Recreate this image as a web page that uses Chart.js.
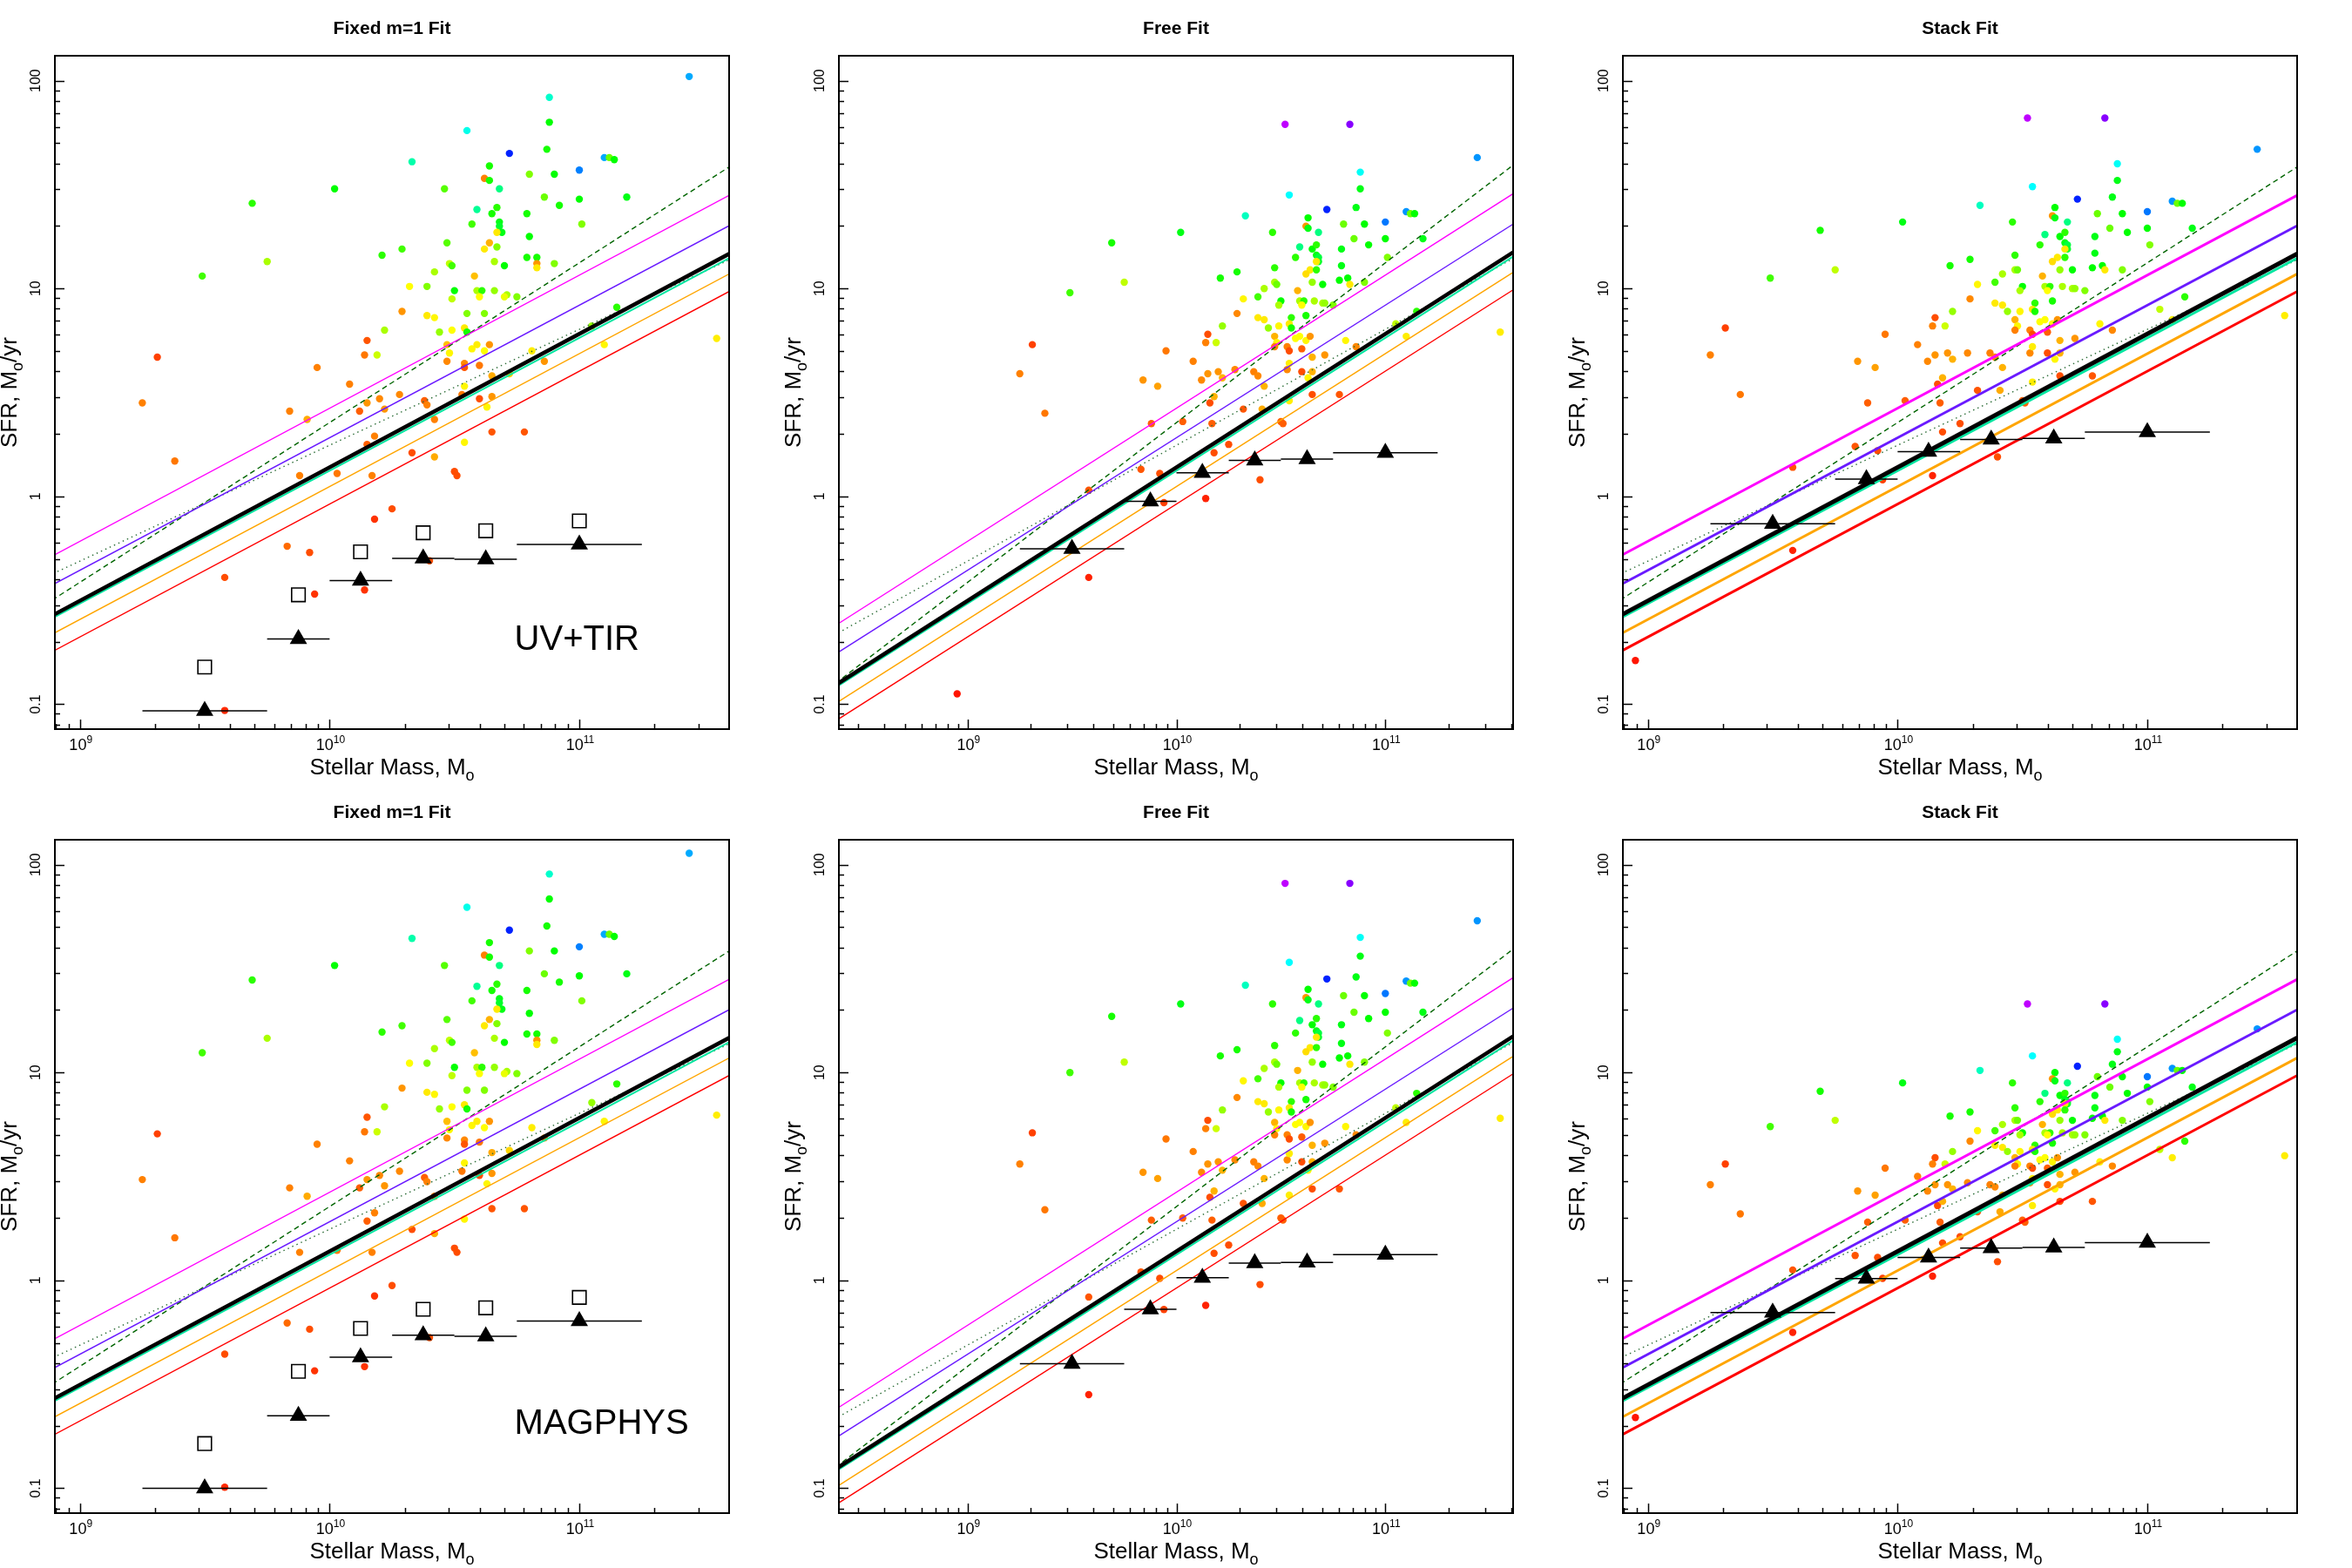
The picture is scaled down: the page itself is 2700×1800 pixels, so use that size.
<!DOCTYPE html>
<html lang="en">
<head>
    <meta charset="UTF-8">
    <title>SFR vs Stellar Mass</title>
    <link rel="icon" href="data:," />
    <script src="https://cdn.jsdelivr.net/npm/chart.js"></script>
    <style>
        body { margin: 0; background: #fff; }
        #sheet { position: relative; width: 2700px; height: 1800px; }
        #sheet canvas { position: absolute; }
    </style>
</head>
<body>
<div id="sheet"></div>
<script>
// ---- axis ticks ----
const xTickValues = [1e9, 1e10, 1e11];
const xTickExponents = ['9', '10', '11'];
const yTickValues = [0.1, 1, 10, 100];
const yTickLabels = ['0.1', '1', '10', '100'];

const narrowMassRange = [7.94e8, 3.98e11];
const wideMassRange = [2.42e8, 4.09e11];
const sfrRange = [0.0759, 131.8];

// ---- reference relations (SFR at M* = 2e8 and 5e11) ----
const relMass = [2e8, 5e11];
const relMagenta = [0.217, 32.5];
const relBlue = [0.158, 23.2];
const relDashed = [0.112, 45.8];
const relDotted = [0.199, 15.6];
const relBlack = [0.112, 17.0];
const relTeal = [0.109, 16.2];
const relOrange = [0.0914, 13.6];
const relRed = [0.0753, 11.2];

// ---- stacked bins ----
const binMass = [3.16e9, 7.5e9, 1.33e10, 2.37e10, 4.22e10, 1e11];
const binLo = [1.78e9, 5.62e9, 1e10, 1.78e10, 3.16e10, 5.62e10];
const binHi = [5.62e9, 1e10, 1.78e10, 3.16e10, 5.62e10, 1.78e11];
const stackUvFixed = [0.093, 0.206, 0.393, 0.503, 0.498, 0.587];
const stackUvFree = [0.560, 0.946, 1.30, 1.49, 1.51, 1.62];
const stackUvStack = [0.738, 1.21, 1.64, 1.88, 1.90, 2.04];
const stackMagFixed = [0.100, 0.223, 0.427, 0.545, 0.538, 0.638];
const stackMagFree = [0.397, 0.726, 1.03, 1.21, 1.22, 1.33];
const stackMagStack = [0.70, 1.02, 1.29, 1.43, 1.44, 1.52];
const medianUv = [0.151, 0.336, 0.541, 0.668, 0.683, 0.762];
const medianMag = [0.164, 0.365, 0.587, 0.726, 0.738, 0.828];

// ---- galaxies, fixed-slope panels (log10 values) ----
const logMassA = [
  10.33,10.72,10.87,10.64,10.62,10.64,10.68,10.46,10.80,10.90,
  11.00,11.10,11.12,11.14,11.19,11.00,10.86,10.92,10.59,10.67,
  10.65,10.57,10.68,10.68,10.69,10.67,10.79,10.80,11.01,10.47,
  10.64,10.62,10.67,10.29,10.21,10.79,10.83,10.66,10.70,10.48,
  10.49,10.83,10.83,10.90,10.42,10.58,10.32,10.39,10.50,10.59,
  10.61,10.66,10.60,10.49,10.71,10.70,10.75,10.29,10.39,10.42,
  10.55,10.62,10.22,10.44,10.49,10.54,10.55,10.15,10.14,10.19,
  10.47,10.48,10.57,10.59,10.62,10.64,10.47,10.54,10.54,10.60,
  10.81,10.86,11.15,11.05,11.10,10.08,10.15,10.20,10.12,10.22,
  10.28,10.38,10.39,10.42,10.53,10.54,10.60,10.65,10.65,10.63,
  10.72,10.65,10.78,10.18,10.15,10.54,10.33,11.44,10.88,10.55,
  10.88,10.02,9.69,9.75,9.49,9.95,9.31,9.25,9.84,9.91,
  9.38,9.88,10.03,10.17,10.42,10.50,10.51,10.25,10.18,9.83,
  9.92,9.58,9.94,10.14,9.58,10.40,11.55];
const logSfrUvFixed = [
  1.61,1.65,1.67,1.59,1.53,1.52,1.48,1.48,1.55,1.55,
  1.57,1.63,1.63,1.62,1.44,1.43,1.44,1.40,1.38,1.39,
  1.36,1.31,1.32,1.30,1.27,1.27,1.36,1.25,1.31,1.22,
  1.22,1.19,1.20,1.19,1.16,1.15,1.15,1.13,1.11,1.12,
  1.11,1.12,1.10,1.12,1.08,1.06,1.01,1.01,0.99,0.99,
  0.99,0.99,0.96,0.95,0.97,0.96,0.96,0.89,0.87,0.86,
  0.88,0.88,0.80,0.79,0.80,0.81,0.79,0.75,0.68,0.68,
  0.73,0.69,0.71,0.73,0.70,0.73,0.65,0.64,0.62,0.63,
  0.70,0.65,0.91,0.82,0.73,0.54,0.45,0.47,0.41,0.42,
  0.49,0.46,0.44,0.37,0.49,0.53,0.47,0.58,0.48,0.43,
  0.59,0.31,0.31,0.29,0.25,0.26,0.21,2.02,1.92,1.76,
  1.80,1.48,1.41,1.13,1.06,0.62,0.67,0.45,0.41,0.37,
  0.17,0.10,0.11,0.10,0.19,0.12,0.10,-0.06,-0.11,-0.24,
  -0.27,-0.39,-0.47,-0.45,-1.03,-0.31,0.76];
const logSfrMagFixed = [
  1.645,1.685,1.705,1.625,1.565,1.555,1.515,1.515,1.585,1.585,
  1.605,1.665,1.665,1.655,1.475,1.465,1.475,1.435,1.415,1.425,
  1.395,1.345,1.355,1.335,1.305,1.305,1.395,1.285,1.345,1.255,
  1.255,1.225,1.235,1.225,1.195,1.185,1.185,1.165,1.145,1.155,
  1.145,1.155,1.135,1.155,1.115,1.095,1.045,1.045,1.025,1.025,
  1.025,1.025,0.995,0.985,1.005,0.995,0.995,0.925,0.905,0.895,
  0.915,0.915,0.835,0.825,0.835,0.845,0.825,0.785,0.715,0.715,
  0.765,0.725,0.745,0.765,0.735,0.765,0.685,0.675,0.655,0.665,
  0.735,0.685,0.945,0.855,0.765,0.575,0.485,0.505,0.445,0.455,
  0.525,0.495,0.475,0.405,0.525,0.565,0.505,0.615,0.515,0.465,
  0.625,0.345,0.345,0.325,0.285,0.295,0.245,2.055,1.955,1.795,
  1.835,1.515,1.445,1.165,1.095,0.655,0.705,0.485,0.445,0.405,
  0.205,0.135,0.145,0.135,0.225,0.155,0.135,-0.025,-0.075,-0.205,
  -0.235,-0.355,-0.435,-0.415,-0.995,-0.275,0.795];
const hueA = [
  160,232,115,115,30,115,150,100,90,120,
  210,200,95,120,125,120,95,115,155,110,
  115,105,125,130,125,55,115,120,90,100,
  42,55,90,105,110,115,115,80,120,75,
  105,35,55,90,80,45,60,90,120,80,
  110,85,60,75,80,65,90,35,55,58,
  90,90,80,85,60,55,115,20,28,72,
  45,58,58,56,60,35,32,32,20,28,
  56,35,110,85,58,30,35,32,22,35,
  32,22,30,30,28,58,18,40,35,58,
  50,20,20,30,22,58,18,200,168,175,
  120,120,110,80,105,30,15,30,30,40,
  28,30,28,30,40,18,18,18,12,25,
  18,18,12,12,10,18,56];

// ---- galaxies, free / stack panels (log10 values) ----
const logMassB = [
  10.52,10.83,10.88,10.54,10.88,10.72,10.86,10.33,11.10,11.12,
  11.14,11.00,10.63,10.62,10.63,10.02,10.46,10.68,10.80,10.90,
  9.69,10.59,10.65,10.67,10.85,10.92,11.00,11.18,10.79,10.57,
  10.67,10.68,10.68,10.67,11.01,10.47,10.29,10.21,10.79,10.64,
  10.62,10.67,10.78,10.82,10.83,10.90,10.47,10.48,10.65,10.70,
  9.75,9.49,10.42,10.32,10.39,10.50,10.58,10.59,10.61,10.60,
  10.66,10.70,10.71,10.75,10.49,10.29,10.39,10.42,10.55,10.62,
  10.44,10.49,10.54,10.55,10.22,10.15,10.14,10.19,10.47,10.57,
  10.59,10.62,10.64,10.48,10.47,10.53,10.54,10.60,10.81,10.86,
  9.95,10.08,9.84,9.91,10.12,10.15,10.20,10.22,10.28,10.37,
  10.39,10.42,10.53,10.54,10.60,10.65,10.65,10.71,10.63,11.05,
  11.15,11.10,10.16,10.18,9.88,10.03,10.17,10.32,10.41,10.54,
  10.65,10.78,10.50,10.51,9.83,9.92,10.18,10.25,10.40,9.58,
  10.14,9.94,11.44,11.55,9.25,9.31,9.37,9.58,8.95];
const logSfrUvFree = [
  1.79,1.79,1.56,1.45,1.48,1.38,1.39,1.35,1.37,1.36,
  1.36,1.32,1.34,1.30,1.29,1.27,1.27,1.27,1.31,1.31,
  1.22,1.20,1.19,1.21,1.24,1.21,1.24,1.24,1.19,1.15,
  1.16,1.15,1.13,1.13,1.15,1.10,1.08,1.05,1.11,1.09,
  1.07,1.09,1.04,1.05,1.02,1.03,1.03,1.02,1.03,1.02,
  1.03,0.98,1.00,0.95,0.96,0.94,0.99,0.94,0.94,0.92,
  0.94,0.93,0.93,0.92,0.92,0.88,0.86,0.85,0.86,0.87,
  0.81,0.82,0.83,0.81,0.82,0.78,0.74,0.74,0.77,0.76,
  0.77,0.75,0.77,0.74,0.72,0.72,0.70,0.71,0.75,0.72,
  0.70,0.65,0.56,0.53,0.56,0.59,0.60,0.57,0.61,0.60,
  0.58,0.53,0.61,0.64,0.60,0.67,0.60,0.68,0.57,0.83,
  0.89,0.77,0.45,0.48,0.35,0.36,0.35,0.42,0.42,0.46,
  0.49,0.49,0.36,0.35,0.13,0.11,0.21,0.25,0.08,0.03,
  -0.01,-0.03,1.63,0.79,0.59,0.73,0.40,-0.39,-0.95];
const logSfrUvStack = [
  1.82,1.82,1.60,1.49,1.52,1.43,1.44,1.40,1.42,1.41,
  1.41,1.37,1.39,1.35,1.34,1.32,1.32,1.32,1.36,1.36,
  1.28,1.26,1.25,1.27,1.29,1.27,1.29,1.29,1.25,1.21,
  1.22,1.21,1.19,1.19,1.21,1.16,1.14,1.11,1.17,1.15,
  1.13,1.15,1.10,1.11,1.09,1.09,1.09,1.09,1.09,1.09,
  1.09,1.05,1.07,1.02,1.03,1.01,1.06,1.01,1.01,0.99,
  1.01,1.00,1.00,0.99,0.99,0.95,0.93,0.92,0.93,0.94,
  0.89,0.89,0.90,0.89,0.89,0.86,0.82,0.82,0.85,0.84,
  0.85,0.83,0.85,0.82,0.80,0.80,0.78,0.79,0.83,0.80,
  0.78,0.73,0.65,0.62,0.65,0.68,0.69,0.66,0.69,0.69,
  0.67,0.62,0.69,0.72,0.69,0.75,0.69,0.76,0.66,0.90,
  0.96,0.85,0.54,0.57,0.45,0.46,0.45,0.51,0.51,0.55,
  0.58,0.58,0.46,0.45,0.24,0.22,0.31,0.35,0.19,0.14,
  0.10,0.08,1.67,0.87,0.68,0.81,0.49,-0.26,-0.79];
const logSfrMagFree = [
  1.91,1.91,1.65,1.53,1.56,1.45,1.46,1.42,1.44,1.43,
  1.43,1.38,1.40,1.36,1.35,1.33,1.33,1.33,1.37,1.37,
  1.27,1.25,1.23,1.26,1.29,1.26,1.29,1.29,1.23,1.19,
  1.20,1.19,1.17,1.17,1.19,1.13,1.11,1.08,1.14,1.12,
  1.10,1.12,1.07,1.08,1.04,1.05,1.05,1.04,1.05,1.04,
  1.05,1.00,1.02,0.96,0.97,0.95,1.01,0.95,0.95,0.93,
  0.95,0.94,0.94,0.93,0.93,0.88,0.86,0.85,0.86,0.87,
  0.81,0.82,0.83,0.81,0.82,0.77,0.73,0.73,0.76,0.75,
  0.76,0.74,0.76,0.73,0.70,0.70,0.68,0.69,0.74,0.70,
  0.68,0.62,0.52,0.49,0.52,0.56,0.57,0.53,0.58,0.57,
  0.55,0.49,0.58,0.61,0.57,0.65,0.57,0.66,0.53,0.83,
  0.90,0.76,0.40,0.43,0.29,0.30,0.29,0.37,0.37,0.41,
  0.44,0.44,0.30,0.29,0.04,0.01,0.13,0.17,-0.02,-0.08,
  -0.12,-0.14,1.73,0.78,0.56,0.71,0.34,-0.55,-1.18];
const logSfrMagStack = [
  1.33,1.33,1.16,1.08,1.10,1.03,1.04,1.01,1.02,1.01,
  1.01,0.98,1.00,0.97,0.96,0.95,0.95,0.95,0.98,0.98,
  0.91,0.90,0.89,0.90,0.93,0.90,0.93,0.93,0.89,0.86,
  0.87,0.86,0.85,0.85,0.86,0.83,0.81,0.79,0.83,0.82,
  0.80,0.82,0.78,0.79,0.77,0.77,0.77,0.77,0.77,0.77,
  0.77,0.74,0.75,0.72,0.72,0.71,0.75,0.71,0.71,0.70,
  0.71,0.70,0.70,0.70,0.70,0.67,0.65,0.64,0.65,0.66,
  0.62,0.62,0.63,0.62,0.62,0.59,0.56,0.56,0.59,0.58,
  0.59,0.57,0.59,0.56,0.55,0.55,0.54,0.54,0.57,0.55,
  0.54,0.50,0.43,0.41,0.43,0.46,0.46,0.44,0.47,0.46,
  0.45,0.41,0.47,0.49,0.46,0.51,0.46,0.52,0.44,0.63,
  0.67,0.59,0.36,0.38,0.28,0.29,0.28,0.33,0.33,0.36,
  0.38,0.38,0.29,0.28,0.12,0.11,0.18,0.21,0.09,0.05,
  0.02,0.01,1.21,0.60,0.46,0.56,0.32,-0.25,-0.66];
const hueB = [
  285,272,178,180,125,232,125,165,205,95,
  120,212,120,35,125,125,110,150,95,120,
  115,150,120,110,95,120,120,125,125,110,
  125,135,130,55,90,110,115,115,125,55,
  52,110,120,120,55,90,80,95,85,120,
  75,105,80,58,105,120,42,80,110,60,
  80,80,85,90,80,32,55,55,110,115,
  85,58,55,115,85,18,30,72,42,60,
  60,58,35,58,30,30,18,22,58,32,
  28,30,35,38,32,35,35,42,32,30,
  32,42,32,56,18,42,42,35,58,75,
  110,56,18,42,22,22,22,20,40,56,
  18,20,22,22,20,18,18,18,18,20,
  8,15,205,56,30,15,28,8,5];

const FONT = "'Liberation Sans', Arial, Helvetica, sans-serif";
Chart.defaults.font.family = FONT;
Chart.defaults.color = '#000';

const panels = [
    { title: 'Fixed m=1 Fit', col: 0, row: 0, range: narrowMassRange, mass: logMassA, sfr: logSfrUvFixed, hue: hueA, stack: stackUvFixed, median: medianUv, tag: 'UV+TIR' },
    { title: 'Free Fit', col: 1, row: 0, range: wideMassRange, mass: logMassB, sfr: logSfrUvFree, hue: hueB, stack: stackUvFree },
    { title: 'Stack Fit', col: 2, row: 0, range: narrowMassRange, mass: logMassB, sfr: logSfrUvStack, hue: hueB, stack: stackUvStack, heavy: true },
    { title: 'Fixed m=1 Fit', col: 0, row: 1, range: narrowMassRange, mass: logMassA, sfr: logSfrMagFixed, hue: hueA, stack: stackMagFixed, median: medianMag, tag: 'MAGPHYS' },
    { title: 'Free Fit', col: 1, row: 1, range: wideMassRange, mass: logMassB, sfr: logSfrMagFree, hue: hueB, stack: stackMagFree },
    { title: 'Stack Fit', col: 2, row: 1, range: narrowMassRange, mass: logMassB, sfr: logSfrMagStack, hue: hueB, stack: stackMagStack, heavy: true }
];

// minor + major tick positions of a log axis
function logTicks(min, max) {
    const out = [];
    for (let e = Math.floor(Math.log10(min)); e <= Math.ceil(Math.log10(max)); e++) {
        for (let m = 1; m <= 9; m++) {
            const v = m * Math.pow(10, e);
            if (v >= min && v <= max) out.push({ v, major: m === 1 });
        }
    }
    return out;
}

function drawSubText(ctx, parts, cx, base) {
    const fonts = [`26px ${FONT}`, `18px ${FONT}`];
    let total = 0;
    parts.forEach(p => { ctx.font = fonts[p[1]]; total += ctx.measureText(p[0]).width; });
    let x = cx - total / 2;
    ctx.textAlign = 'left';
    parts.forEach(p => {
        ctx.font = fonts[p[1]];
        ctx.fillText(p[0], x, base + (p[1] ? 7 : 0));
        x += ctx.measureText(p[0]).width;
    });
}

const framePlugin = {
    id: 'frame',
    afterDraw(chart, args, opts) {
        const { ctx, chartArea: a } = chart;
        const xs = chart.scales.x, ys = chart.scales.y;
        ctx.save();
        ctx.strokeStyle = '#000';
        ctx.fillStyle = '#000';
        ctx.lineWidth = 1.5;
        ctx.beginPath();
        logTicks(xs.min, xs.max).forEach(t => {
            const px = Math.round(xs.getPixelForValue(t.v)) + 0.5;
            ctx.moveTo(px, a.bottom);
            ctx.lineTo(px, a.bottom - (t.major ? 11 : 6));
        });
        logTicks(ys.min, ys.max).forEach(t => {
            const py = Math.round(ys.getPixelForValue(t.v)) + 0.5;
            ctx.moveTo(a.left, py);
            ctx.lineTo(a.left + (t.major ? 11 : 6), py);
        });
        ctx.stroke();
        ctx.lineWidth = 2;
        ctx.strokeRect(a.left, a.top, a.right - a.left, a.bottom - a.top);

        // x tick labels: 10 with a raised exponent
        ctx.textBaseline = 'alphabetic';
        xTickValues.forEach((v, i) => {
            if (v < xs.min || v > xs.max) return;
            const px = xs.getPixelForValue(v);
            ctx.font = `18px ${FONT}`;
            const wBase = ctx.measureText('10').width;
            ctx.font = `12px ${FONT}`;
            const wExp = ctx.measureText(xTickExponents[i]).width;
            const x0 = px - (wBase + wExp) / 2 + 1;
            ctx.textAlign = 'left';
            ctx.font = `18px ${FONT}`;
            ctx.fillText('10', x0, a.bottom + 24);
            ctx.font = `12px ${FONT}`;
            ctx.fillText(xTickExponents[i], x0 + wBase, a.bottom + 16);
        });

        const cx = (a.left + a.right) / 2;
        ctx.textAlign = 'center';
        ctx.font = `bold 21px ${FONT}`;
        ctx.fillText(opts.title, cx, 39);

        drawSubText(ctx, [['Stellar Mass, M', 0], ['o', 1]], cx, 889);

        ctx.save();
        ctx.translate(19, (a.top + a.bottom) / 2);
        ctx.rotate(-Math.PI / 2);
        drawSubText(ctx, [['SFR, M', 0], ['o', 1], ['/yr', 0]], 0, 0);
        ctx.restore();

        if (opts.tag) {
            ctx.font = `40px ${FONT}`;
            ctx.textAlign = 'left';
            ctx.fillText(opts.tag, xs.getPixelForValue(5.5e10), ys.getPixelForValue(0.182));
        }
        ctx.restore();
    }
};

function relationSets(heavy) {
    const thin = heavy ? 3 : 1.4;
    const defs = [
        { sfr: relBlack, color: '#000000', width: heavy ? 5 : 4.5 },
        { sfr: relTeal, color: '#00e6a0', width: heavy ? 3 : 2 },
        { sfr: relMagenta, color: '#ff00ff', width: thin },
        { sfr: relBlue, color: '#6a1aff', width: thin },
        { sfr: relOrange, color: '#ffa500', width: thin },
        { sfr: relRed, color: '#ff0000', width: thin },
        { sfr: relDashed, color: '#006400', width: 1.4, dash: [6, 4] },
        { sfr: relDotted, color: '#2f6f3a', width: 1.4, dash: [1.5, 4] }
    ];
    return defs.map(d => ({
        data: relMass.map((m, i) => ({ x: m, y: d.sfr[i] })),
        showLine: true,
        borderColor: d.color,
        borderWidth: d.width,
        borderDash: d.dash || [],
        pointRadius: 0,
        tension: 0,
        fill: false
    }));
}

function makePanel(p) {
    const canvas = document.createElement('canvas');
    canvas.width = 900;
    canvas.height = 900;
    canvas.style.left = (p.col * 900) + 'px';
    canvas.style.top = (p.row * 900) + 'px';
    document.getElementById('sheet').appendChild(canvas);

    const datasets = [];
    // stacked points with their bin widths
    datasets.push({
        data: binMass.map((m, i) => ({ x: m, y: p.stack[i] })),
        pointStyle: 'triangle',
        pointRadius: 11.5,
        pointBackgroundColor: '#000',
        pointBorderColor: '#000',
        pointBorderWidth: 0
    });
    binMass.forEach((m, i) => {
        datasets.push({
            data: [{ x: binLo[i], y: p.stack[i] }, { x: binHi[i], y: p.stack[i] }],
            showLine: true,
            borderColor: '#000',
            borderWidth: 1.5,
            pointRadius: 0
        });
    });
    if (p.median) {
        datasets.push({
            data: binMass.map((m, i) => ({ x: m, y: p.median[i] })),
            pointStyle: 'rect',
            pointRadius: 11,
            pointBackgroundColor: 'rgba(0,0,0,0)',
            pointBorderColor: '#000',
            pointBorderWidth: 1.6
        });
    }
    relationSets(p.heavy).forEach(d => datasets.push(d));
    datasets.push({
        data: p.mass.map((m, i) => ({ x: Math.pow(10, m), y: Math.pow(10, p.sfr[i]) })),
        pointRadius: 4.2,
        pointHoverRadius: 4.2,
        pointBorderWidth: 0,
        pointBackgroundColor: p.hue.map(h => `hsl(${h},100%,50%)`)
    });

    new Chart(canvas, {
        type: 'scatter',
        data: { datasets },
        options: {
            responsive: false,
            animation: false,
            devicePixelRatio: 1,
            events: [],
            layout: { padding: { top: 64, right: 63, bottom: 0, left: 0 } },
            plugins: {
                legend: { display: false },
                tooltip: { enabled: false },
                frame: { title: p.title, tag: p.tag }
            },
            scales: {
                x: {
                    type: 'logarithmic',
                    position: 'bottom',
                    min: p.range[0],
                    max: p.range[1],
                    afterBuildTicks: s => { s.ticks = xTickValues.map(v => ({ value: v })); },
                    afterFit: s => { s.height = 63; },
                    grid: { display: false, drawTicks: false },
                    border: { display: false },
                    ticks: { display: false }
                },
                y: {
                    type: 'logarithmic',
                    position: 'left',
                    min: sfrRange[0],
                    max: sfrRange[1],
                    afterBuildTicks: s => { s.ticks = yTickValues.map(v => ({ value: v })); },
                    afterFit: s => { s.width = 63; },
                    grid: { display: false, drawTicks: false },
                    border: { display: false },
                    ticks: {
                        autoSkip: false, minRotation: 90, maxRotation: 90, crossAlign: 'center', padding: 8,
                        font: { size: 16 }, color: '#000',
                        callback: v => yTickLabels[yTickValues.indexOf(v)] || ''
                    }
                }
            }
        },
        plugins: [framePlugin]
    });
}

panels.forEach(makePanel);
</script>
</body>
</html>
